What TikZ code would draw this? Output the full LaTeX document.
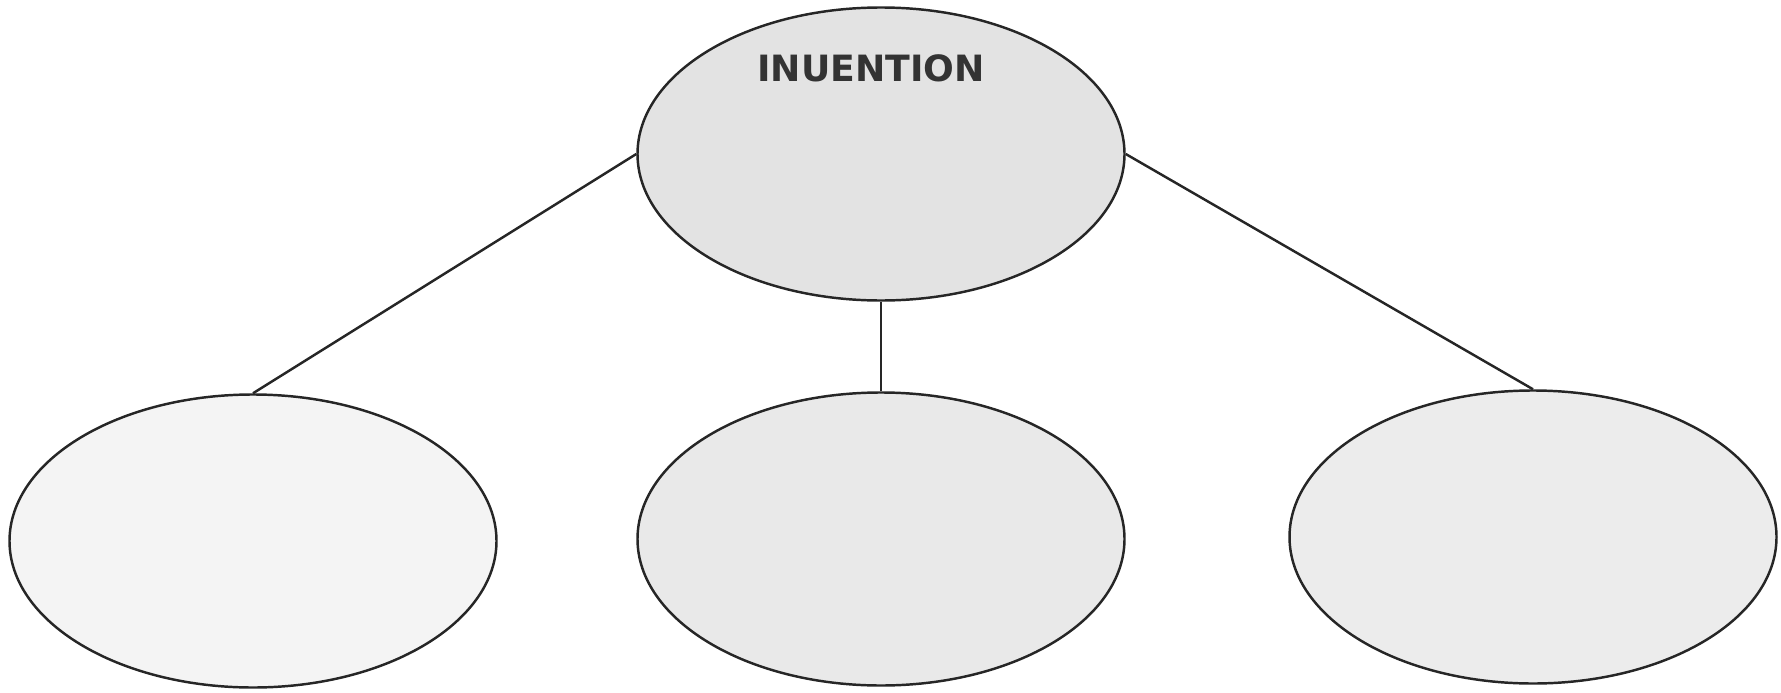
\documentclass[tikz,border=0pt]{standalone}
\usepackage{fontspec}
\setsansfont{DejaVu Sans}
\usetikzlibrary{shapes.geometric}
\begin{document}
\begin{tikzpicture}[line width=0.7pt,
  bubble/.style={ellipse, draw=black!85, inner sep=0pt, minimum width=4.87cm, minimum height=2.93cm}]
\useasboundingbox (0,0) rectangle (17.81,6.92);
% Ellipses
\node[bubble, fill=gray!22] (root) at (8.81,5.38) {};
\node[bubble, fill=gray!9] (leftn) at (2.53,1.51) {};
\node[bubble, fill=gray!17] (midn) at (8.81,1.53) {};
\node[bubble, fill=gray!15] (rightn) at (15.33,1.55) {};
% Title
\node[font=\sffamily\bfseries\fontsize{10.3}{12}\selectfont, text=black!80] (title) at (8.71,6.24) {INUENTION};
% Lines
\draw[black!85] (root.west) -- (leftn.north);
\draw[black!85] (root.south) -- (midn.north);
\draw[black!85] (root.east) -- (rightn.north);
\end{tikzpicture}
\end{document}
